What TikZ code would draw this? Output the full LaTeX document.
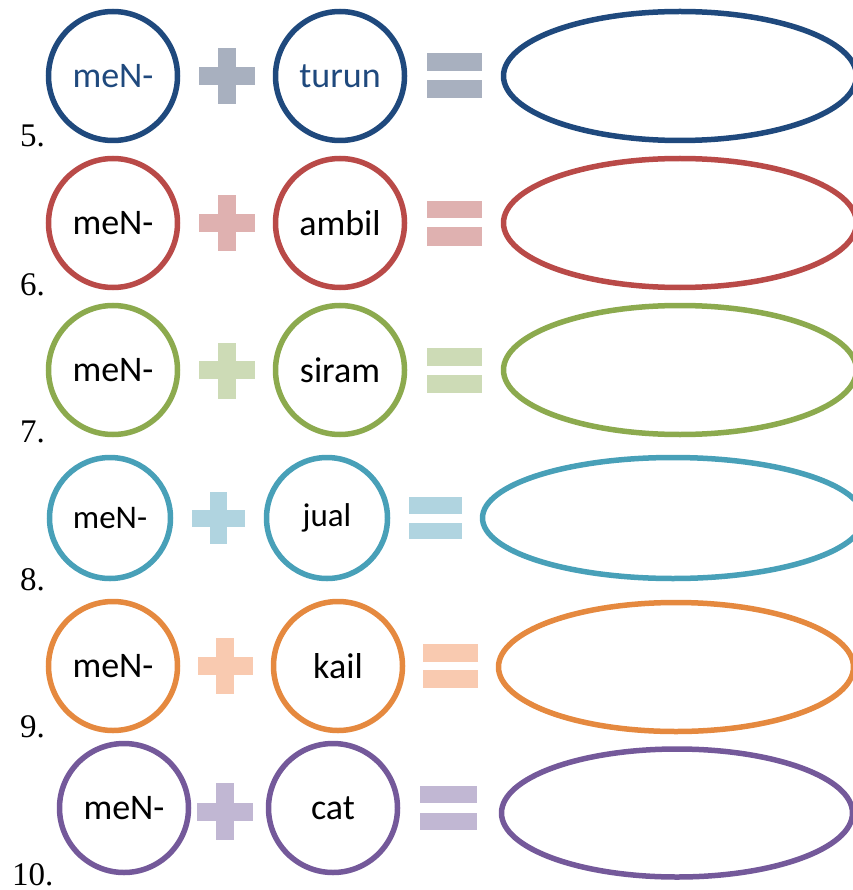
\documentclass[tikz,border=0pt]{standalone}
\usepackage{fontspec}
\newfontfamily\carlito{Carlito}
\newfontfamily\numfont{Liberation Serif}
\usetikzlibrary{shapes.geometric}
\definecolor{navyring}{HTML}{1F497D}
\definecolor{navysign}{HTML}{A8B0BF}
\definecolor{redring}{HTML}{B94A48}
\definecolor{redsign}{HTML}{DFB1B0}
\definecolor{greenring}{HTML}{8CAA4E}
\definecolor{greensign}{HTML}{CDDBB6}
\definecolor{aquaring}{HTML}{48A0B8}
\definecolor{aquasign}{HTML}{B0D4E0}
\definecolor{orangering}{HTML}{E5893F}
\definecolor{orangesign}{HTML}{F9CAB0}
\definecolor{purplering}{HTML}{74599A}
\definecolor{purplesign}{HTML}{C1B7D3}

\begin{document}
\begin{tikzpicture}[x=1pt, y=-1pt,
  ring/.style={circle, draw=#1, line width=5.5pt, minimum size=129pt, inner sep=0pt,
               font=\carlito\fontsize{36}{40}\selectfont},
  oval/.style={ellipse, draw=#1, line width=5.5pt, inner sep=0pt},
  num/.style={anchor=base west, inner sep=0pt, font=\numfont\fontsize{33}{38}\selectfont}]
\useasboundingbox (0,0) rectangle (852,890);

% 5.
\node[ring=navyring, text=navyring] (pre5) at (113,76) {meN-};
\node[ring=navyring, text=navyring] (base5) at (340,76) {turun};
\fill[navysign] (199,67) rectangle (255,85);
\fill[navysign] (218,48) rectangle (236,104);
\fill[navysign] (427,53) rectangle (482,71);
\fill[navysign] (427,80) rectangle (482,98);
\node[oval=navyring, minimum width=353pt, minimum height=129pt] (word5) at (680,76) {};
\node[num] (n5) at (20,147) {5.};

% 6.
\node[ring=redring] (pre6) at (113,223) {meN-};
\node[ring=redring] (base6) at (340,223) {ambil};
\fill[redsign] (199,214) rectangle (255,232);
\fill[redsign] (218,195) rectangle (236,251);
\fill[redsign] (427,201) rectangle (482,218);
\fill[redsign] (427,227) rectangle (482,246);
\node[oval=redring, minimum width=353pt, minimum height=129pt] (word6) at (680,223) {};
\node[num] (n6) at (20,295) {6.};

% 7.
\node[ring=greenring] (pre7) at (113,370) {meN-};
\node[ring=greenring] (base7) at (340,370) {siram};
\fill[greensign] (199,361) rectangle (255,379);
\fill[greensign] (218,343) rectangle (236,399);
\fill[greensign] (427,348) rectangle (482,366);
\fill[greensign] (427,375) rectangle (482,393);
\node[oval=greenring, minimum width=353pt, minimum height=129pt] (word7) at (680,370) {};
\node[num] (n7) at (20,442) {7.};

% 8.
\node[ring=aquaring, minimum size=121pt, font=\carlito\fontsize{33}{38}\selectfont] (pre8) at (110,518) {meN-};
\node[ring=aquaring, minimum size=121pt, font=\carlito\fontsize{33}{38}\selectfont] (base8) at (327,518) {jual};
\fill[aquasign] (192,510) rectangle (245,527);
\fill[aquasign] (210,492) rectangle (227,544);
\fill[aquasign] (409,497) rectangle (462,514);
\fill[aquasign] (409,523) rectangle (462,539);
\node[oval=aquaring, minimum width=381pt, minimum height=121pt] (word8) at (673,518) {};
\node[num] (n8) at (20,590) {8.};

% 9.
\node[ring=orangering] (pre9) at (113,666) {meN-};
\node[ring=orangering] (base9) at (338,666) {kail};
\fill[orangesign] (198,657) rectangle (253,675);
\fill[orangesign] (216,638) rectangle (234,694);
\fill[orangesign] (423,644) rectangle (478,662);
\fill[orangesign] (423,670) rectangle (478,688);
\node[oval=orangering, minimum width=355pt, minimum height=129pt] (word9) at (676,667) {};
\node[num] (n9) at (20,737) {9.};

% 10.
\node[ring=purplering] (pre10) at (124,808) {meN-};
\node[ring=purplering] (base10) at (333,808) {cat};
\fill[purplesign] (197,803) rectangle (253,821);
\fill[purplesign] (216,783) rectangle (234,840);
\fill[purplesign] (420,786) rectangle (477,803);
\fill[purplesign] (420,813) rectangle (477,830);
\node[oval=purplering, minimum width=351pt, minimum height=128pt] (word10) at (677,813) {};
\node[num] (n10) at (12,885) {10.};
\end{tikzpicture}
\end{document}
